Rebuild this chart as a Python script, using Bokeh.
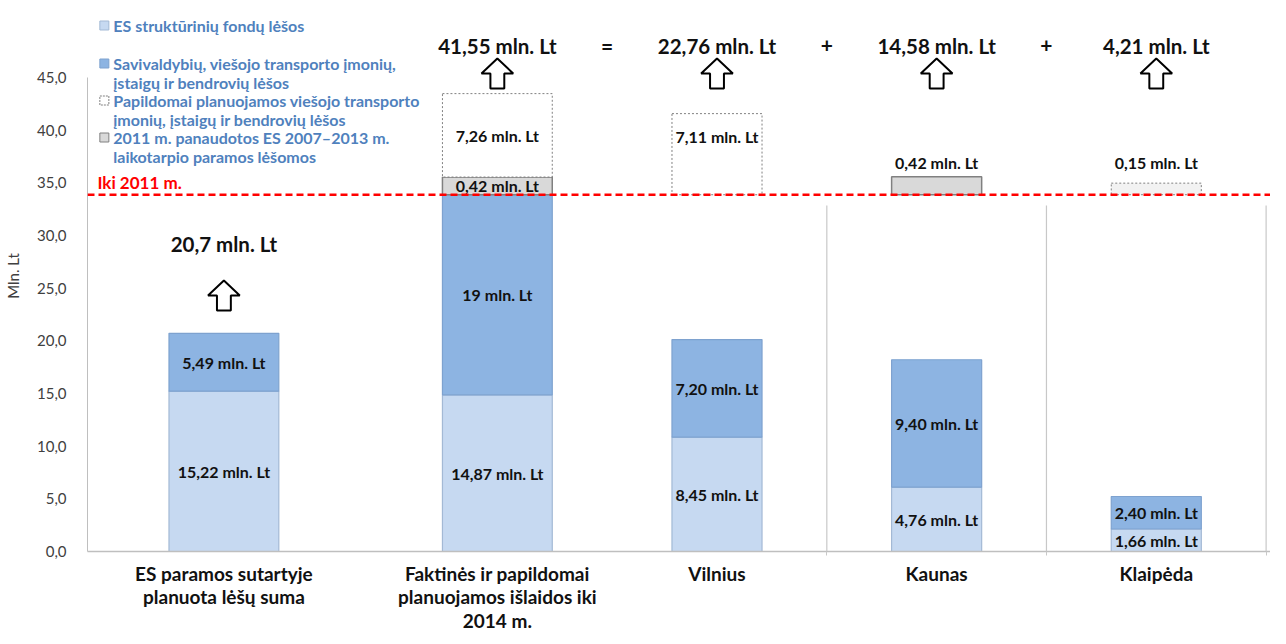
import numpy as np
from bokeh.plotting import figure
from bokeh.models import Range1d, FixedTicker, Span, ColumnDataSource
from bokeh.core.properties import value
from bokeh.embed import file_html
from bokeh.resources import INLINE

# ---------------- data ----------------
categories = ["ES paramos sutartyje\nplanuota lėšų suma",
              "Faktinės ir papildomai\nplanuojamos išlaidos iki\n2014 m.",
              "Vilnius", "Kaunas", "Klaipėda"]
es_funds = [15.22, 14.87, 8.45, 4.76, 1.66]          # ES struktūrinių fondų lėšos
local_funds = [5.49, 19.0, 7.20, 9.40, 2.40]         # Savivaldybių ... lėšos
totals = [20.7, 41.55, 22.76, 14.58, 4.21]
used_2011 = [None, 0.42, None, 0.42, None]           # 2011 m. panaudotos ES lėšos (label)
used_2011_drawn = [0, 1.68, 0, 1.70, 0]              # drawn box height (as in picture)
planned_extra = [None, 7.26, 7.11, None, 0.15]       # Papildomai planuojamos lėšos (label)
planned_extra_drawn = [0, 7.92, 7.70, 0, 1.10]       # drawn box height (as in picture)
y_ticks = [0, 5, 10, 15, 20, 25, 30, 35, 40, 45]
legend_labels = ["ES struktūrinių fondų lėšos",
                 "Savivaldybių, viešojo transporto įmonių,\nįstaigų ir bendrovių lėšos",
                 "Papildomai planuojamos viešojo transporto\nįmonių, įstaigų ir bendrovių lėšos",
                 "2011  m. panaudotos ES 2007–2013 m.\nlaikotarpio paramos lėšomos"]
line_label = "Iki 2011 m."
city_axis_max = 35.0     # hidden secondary scale of the city bars
main_axis_max = 45.0

# ---------------- layout ----------------
W, H = 1270, 636
BL, BB = 77, 85
FW, FH = W - BL, H - BB
UY = 474.0 / 45.0
Y_MAX = FH / UY
UX = 221.5
X0 = -0.621
X1 = X0 + FW / UX

def px(xp):   # page x -> data x
    return X0 + (xp - 85) / UX

def py(yp):   # page y -> data y (primary)
    return (551 - yp) / UY

gap = 0.245
xc = [i + (gap if i > 0 else 0) for i in range(5)]
widths = [0.5, 0.5, 0.41, 0.41, 0.41]

LIGHT, LIGHT_E = "#C6D9F1", "#A3B9D5"
DARK, DARK_E = "#8DB4E2", "#7EA2CF"
GREY, GREY_E = "#D9D9D9", "#808080"
FONT = value("Lato")
TXT = "#111111"

p = figure(width=W, height=H, output_backend="svg", toolbar_location=None,
           x_range=Range1d(X0, X1), y_range=Range1d(0, Y_MAX),
           min_border_left=BL, min_border_right=0, min_border_top=0,
           min_border_bottom=BB)
p.extra_y_ranges = {"city": Range1d(0, Y_MAX * city_axis_max / main_axis_max)}
p.outline_line_color = None
p.xgrid.visible = False
p.ygrid.visible = False

def fmt_seg(v):
    s = ("%d" % v) if float(v).is_integer() else ("%.2f" % v)
    return s.replace(".", ",") + " mln. Lt"

def fmt_tot(v):
    return ("%g" % v).replace(".", ",") + " mln. Lt"

# ---------- separators between city categories ----------
seps = [xc[i] + 0.5 for i in range(2, 5)]
p.segment(x0=seps, y0=[0] * 3, x1=seps, y1=[py(205)] * 3,
          line_color="#C8C8C8", line_width=1.2)

# ---------- stacked bars ----------
for idxs, rng in (([0, 1], "default"), ([2, 3, 4], "city")):
    src = ColumnDataSource(dict(
        x=[xc[i] for i in idxs], w=[widths[i] for i in idxs],
        es=[es_funds[i] for i in idxs],
        top2=[es_funds[i] + local_funds[i] for i in idxs],
        y_es=[es_funds[i] / 2 for i in idxs],
        y_loc=[es_funds[i] + local_funds[i] / 2 for i in idxs],
        t_es=[fmt_seg(es_funds[i]) for i in idxs],
        t_loc=[fmt_seg(local_funds[i]) for i in idxs]))
    p.vbar(x="x", width="w", bottom=0, top="es", source=src, fill_color=LIGHT,
           line_color=LIGHT_E, line_width=1.2, y_range_name=rng)
    p.vbar(x="x", width="w", bottom="es", top="top2", source=src, fill_color=DARK,
           line_color=DARK_E, line_width=1.2, y_range_name=rng)
    for col, tcol in (("y_es", "t_es"), ("y_loc", "t_loc")):
        p.text(x="x", y=col, text=tcol, source=src, y_range_name=rng,
               text_font=FONT, text_font_style="bold", text_font_size="16px",
               text_color=TXT, text_align="center", text_baseline="middle")

level_2011 = es_funds[1] + local_funds[1]

# ---------- boxes above 2011 level ----------
grey_x, grey_b, grey_t, grey_w, grey_lbl, grey_ly = [], [], [], [], [], []
dash_x, dash_b, dash_t, dash_w, dash_lbl, dash_ly, dash_fill = [], [], [], [], [], [], []
for i in range(5):
    base = level_2011
    if used_2011[i] is not None:
        grey_x.append(xc[i]); grey_w.append(widths[i])
        grey_b.append(base); grey_t.append(base + used_2011_drawn[i])
        grey_lbl.append(fmt_seg(used_2011[i]))
        grey_ly.append(base + used_2011_drawn[i] / 2 if i == 1 else py(162))
        base = base + used_2011_drawn[i]
    if planned_extra[i] is not None:
        dash_x.append(xc[i]); dash_w.append(widths[i])
        dash_b.append(base); dash_t.append(base + planned_extra_drawn[i])
        dash_lbl.append(fmt_seg(planned_extra[i]))
        big = planned_extra_drawn[i] > 3
        if i == 1:
            ly = base + planned_extra_drawn[i] / 2
        elif big:
            ly = base + planned_extra_drawn[i] - 2.2
        else:
            ly = py(162)
        dash_ly.append(ly)
        dash_fill.append("white" if big else "#F2F2F2")

p.vbar(x=grey_x, width=grey_w, bottom=grey_b, top=grey_t, fill_color=GREY,
       line_color=GREY_E, line_width=1.5)
p.vbar(x=dash_x, width=dash_w, bottom=dash_b, top=dash_t, fill_color=dash_fill,
       line_color="#808080", line_width=1, line_dash="2 2")
p.text(x=grey_x + dash_x, y=grey_ly + dash_ly, text=grey_lbl + dash_lbl,
       text_font=FONT, text_font_style="bold", text_font_size="16px",
       text_color=TXT, text_align="center", text_baseline="middle")

# ---------- 2011 line ----------
p.add_layout(Span(location=level_2011, dimension="width", line_color="#FF0000",
                  line_width=2.5, line_dash="7 4"))
p.text(x=[px(95)], y=[py(182)], text=[line_label], text_font=FONT,
       text_font_style="bold", text_font_size="17px", text_color="#FF0000",
       text_align="left", text_baseline="middle")

# ---------- arrows and totals ----------
def arrow(cx, top_page):
    hw, sw = 16 / UX, 7 / UX
    t, s, b = py(top_page), py(top_page + 15), py(top_page + 30)
    return ([cx, cx + hw, cx + sw, cx + sw, cx - sw, cx - sw, cx - hw],
            [t, s, s, b, b, s, s])

arr_xs, arr_ys, tot_y = [], [], []
for i in range(5):
    tp = 280 if i == 0 else 58
    ax, ay = arrow(xc[i], tp)
    arr_xs.append(ax); arr_ys.append(ay)
    tot_y.append(py(243) if i == 0 else py(45))
p.patches(xs=arr_xs, ys=arr_ys, fill_color="white", line_color="black", line_width=2)
p.text(x=xc, y=tot_y, text=[fmt_tot(v) for v in totals], text_font=FONT,
       text_font_style="bold", text_font_size="20.5px", text_color=TXT,
       text_align="center", text_baseline="middle")
p.text(x=[(xc[1] + xc[2]) / 2, xc[2] + 0.5, xc[3] + 0.5], y=[py(45)] * 3,
       text=["=", "+", "+"], text_font=FONT, text_font_style="bold",
       text_font_size="21px", text_color=TXT, text_align="center",
       text_baseline="middle")

# ---------- legend ----------
leg_top = [25, 63, 100, 137]
leg_fill = [LIGHT, DARK, "white", GREY]
leg_line = [LIGHT_E, DARK_E, "#808080", GREY_E]
for k in range(4):
    p.scatter(x=[px(102)], y=[py(leg_top[k])], marker="square", size=9,
              fill_color=leg_fill[k], line_color=leg_line[k], line_width=1,
              line_dash="2 1" if k == 2 else "solid")
lx, ly, lt = [], [], []
for k, lab in enumerate(legend_labels):
    for j, line in enumerate(lab.split("\n")):
        lx.append(px(111)); ly.append(py(leg_top[k] + 19 * j)); lt.append(line)
p.text(x=lx, y=ly, text=lt, text_font=FONT, text_font_style="bold",
       text_font_size="16px", text_color="#4F81BD", text_align="left",
       text_baseline="middle")

# ---------- axes ----------
yax = p.yaxis[0]
yax.ticker = FixedTicker(ticks=y_ticks)
yax.major_label_overrides = {t: ("%.1f" % t).replace(".", ",") for t in y_ticks}
yax.bounds = (0, main_axis_max)
yax.axis_line_color = "#BFBFBF"
yax.major_tick_line_color = None
yax.minor_tick_line_color = None
yax.major_label_standoff = 15
yax.major_label_text_font = "Lato"
yax.major_label_text_font_size = "15px"
yax.major_label_text_color = "#404040"
yax.axis_label = "Mln. Lt"
yax.axis_label_text_font = "Lato"
yax.axis_label_text_font_size = "15px"
yax.axis_label_text_font_style = "normal"
yax.axis_label_text_color = "#404040"
yax.axis_label_standoff = 12

xax = p.xaxis[0]
xax.ticker = FixedTicker(ticks=xc, minor_ticks=seps)
xax.major_label_overrides = {xc[i]: categories[i] for i in range(5)}
xax.axis_line_color = "#BFBFBF"
xax.axis_line_width = 1.5
xax.major_tick_line_color = None
xax.major_tick_out = 0
xax.major_tick_in = 0
xax.minor_tick_line_color = "#C8C8C8"
xax.minor_tick_in = 0
xax.minor_tick_out = 4
xax.major_label_standoff = 6
xax.major_label_text_font = "Lato"
xax.major_label_text_font_style = "bold"
xax.major_label_text_font_size = "19px"
xax.major_label_text_color = TXT
xax.major_label_text_line_height = 1.03

open("out.html", "w").write(file_html(p, INLINE))
